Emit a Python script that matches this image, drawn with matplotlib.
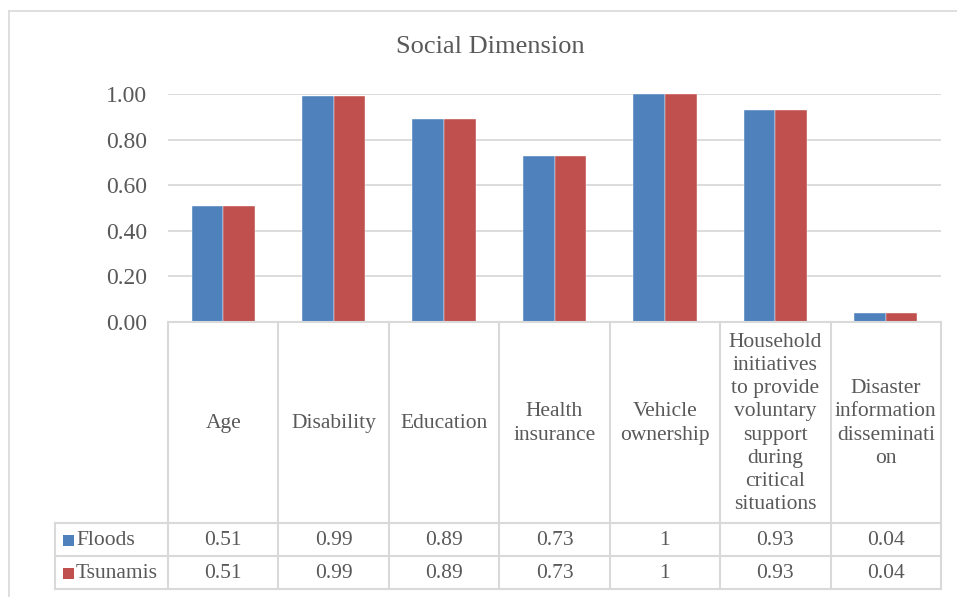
import matplotlib
matplotlib.use("Agg")
import matplotlib.pyplot as plt
from matplotlib.lines import Line2D
from matplotlib.patches import Rectangle
import numpy as np

# Data
categories = [
    "Age",
    "Disability",
    "Education",
    "Health\ninsurance",
    "Vehicle\nownership",
    "Household\ninitiatives\nto provide\nvoluntary\nsupport\nduring\ncritical\nsituations",
    "Disaster\ninformation\ndisseminati\non",
]
floods = [0.51, 0.99, 0.89, 0.73, 1.00, 0.93, 0.04]
tsunamis = [0.51, 0.99, 0.89, 0.73, 1.00, 0.93, 0.04]
floods_labels = ["0.51", "0.99", "0.89", "0.73", "1", "0.93", "0.04"]
tsunamis_labels = ["0.51", "0.99", "0.89", "0.73", "1", "0.93", "0.04"]
series_names = ["Floods", "Tsunamis"]
yticks = [0.0, 0.2, 0.4, 0.6, 0.8, 1.0]

BLUE = "#4f81bd"
RED = "#c0504d"
TEXT = "#595959"
GRID = "#d9d9d9"
FONT = "Liberation Serif"

W, H = 957, 597
fig = plt.figure(figsize=(W / 100, H / 100), dpi=100)


def fx(px):
    return px / W


def fy(py):
    return 1 - py / H


# Plot area in pixel coordinates
L, R, T, B = 168, 941, 94, 322
ax = fig.add_axes([fx(L), fy(B), fx(R - L), (B - T) / H])

n = len(categories)
x = np.arange(n)
bw = 0.286
ax.bar(x - bw / 2, floods, bw, color=BLUE, edgecolor="#ffffff", linewidth=0.3, zorder=3)
ax.bar(x + bw / 2, tsunamis, bw, color=RED, edgecolor="#ffffff", linewidth=0.3, zorder=3)

ax.set_xlim(-0.5, n - 0.5)
ax.set_ylim(0, 1.0)
ax.set_yticks(yticks)
ax.set_yticklabels([f"{v:.2f}" for v in yticks], fontfamily=FONT, fontsize=17, color=TEXT)
ax.tick_params(axis="y", length=0, pad=15)
ax.set_xticks([])
for s in ax.spines.values():
    s.set_visible(False)
ax.yaxis.grid(True, color=GRID, linewidth=1.3, zorder=0)
ax.set_axisbelow(True)
ax.patch.set_alpha(0)

# Chart border (top and left edges visible)
fig.add_artist(Line2D([fx(9), fx(W + 5)], [fy(10.5), fy(10.5)], color=GRID, lw=1.2))
fig.add_artist(Line2D([fx(9), fx(9)], [fy(10.5), fy(H + 5)], color=GRID, lw=1.2))

# Title
fig.text(fx(490), fy(47), "Social Dimension", ha="center", va="center",
         fontfamily=FONT, fontsize=19, color=TEXT)

# Data table
col_w = (R - L) / n
hdr_bottom = 523
row_bounds = [hdr_bottom, 556, 589]
legend_left = 55
tcolor = GRID
tlw = 1.5


def hline(x0, x1, y):
    fig.add_artist(Line2D([fx(x0), fx(x1)], [fy(y), fy(y)], color=tcolor, lw=tlw))


def vline(xp, y0, y1):
    fig.add_artist(Line2D([fx(xp), fx(xp)], [fy(y0), fy(y1)], color=tcolor, lw=tlw))


# header column borders
for i in range(n + 1):
    vline(L + i * col_w, B, row_bounds[-1])
hline(L, R, B)
for y in row_bounds:
    hline(legend_left, R, y)
vline(legend_left, row_bounds[0], row_bounds[-1])

# category headers
for i, cat in enumerate(categories):
    fig.text(fx(L + (i + 0.5) * col_w), fy((B + hdr_bottom) / 2 + 1), cat,
             ha="center", va="center", multialignment="center",
             fontfamily=FONT, fontsize=15.5, color=TEXT, linespacing=1.3)

# value rows
for r, (name, labels, col) in enumerate(zip(series_names,
                                             [floods_labels, tsunamis_labels],
                                             [BLUE, RED])):
    yc = (row_bounds[r] + row_bounds[r + 1]) / 2 + 1
    fig.add_artist(Rectangle((fx(63), fy(yc + 5)), fx(10.5), 10.5 / H,
                             facecolor=col, edgecolor="none"))
    fig.text(fx(76), fy(yc), name, ha="left", va="center",
             fontfamily=FONT, fontsize=15.5, color=TEXT)
    for i, lab in enumerate(labels):
        fig.text(fx(L + (i + 0.5) * col_w), fy(yc), lab, ha="center", va="center",
                 fontfamily=FONT, fontsize=15.5, color=TEXT)

fig.savefig("out.png", dpi=100, facecolor="white")
